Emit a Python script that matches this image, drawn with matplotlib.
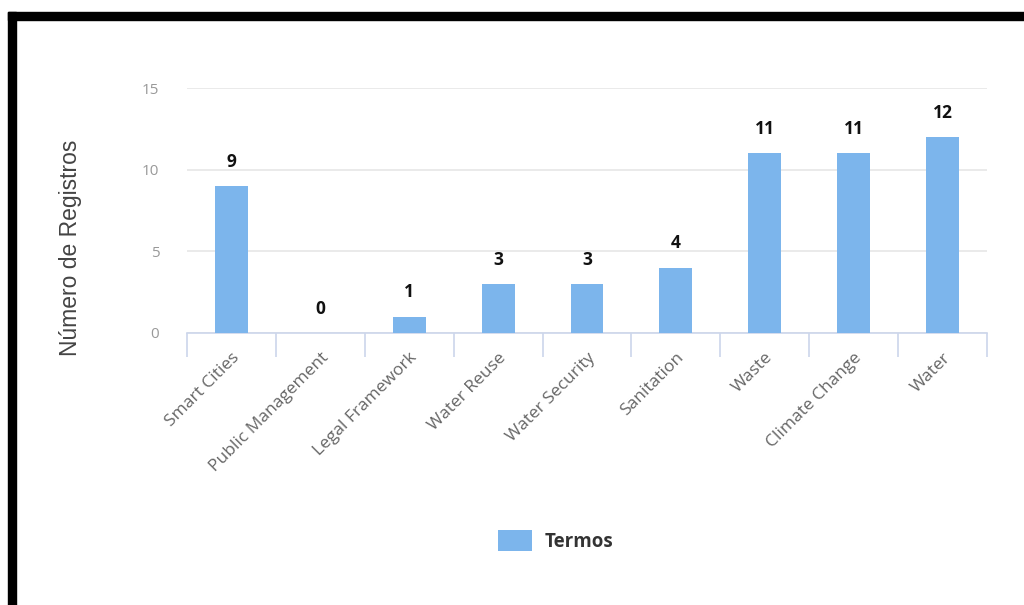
import matplotlib
matplotlib.use('Agg')
import matplotlib.pyplot as plt
from matplotlib.patches import Rectangle, Patch
import numpy as np

categories = ["Smart Cities", "Public Management", "Legal Framework", "Water Reuse",
              "Water Security", "Sanitation", "Waste", "Climate Change", "Water"]
values = [9, 0, 1, 3, 3, 4, 11, 11, 12]
yticks = [0, 5, 10, 15]

bar_color = "#7cb5ec"
axis_color = "#ccd6eb"

fig = plt.figure(figsize=(10.24, 6.05), dpi=100)
W, H = 1024, 605

# black frame (top and left)
fig.patches.append(Rectangle((8 / W, (H - 20) / H), 1 - 8 / W, 8 / H,
                             transform=fig.transFigure, color="black", zorder=0))
fig.patches.append(Rectangle((8 / W, 0), 8 / W, (H - 12) / H,
                             transform=fig.transFigure, color="black", zorder=0))

ax = fig.add_axes([187 / W, (H - 333) / H, 800 / W, 245 / H])
x = np.arange(len(categories))
ax.bar(x, values, width=0.37, color=bar_color, zorder=3)
ax.set_xlim(-0.5, len(categories) - 0.5)
ax.set_ylim(0, 15)

for s in ["top", "right", "left"]:
    ax.spines[s].set_visible(False)
ax.spines["bottom"].set_color(axis_color)
ax.spines["bottom"].set_linewidth(1.2)

ax.set_yticks(yticks)
ax.set_yticklabels([str(v) for v in yticks], color="#999999", fontsize=11, family="Open Sans")
ax.tick_params(axis="y", length=0, pad=20)
ax.grid(axis="y", color="#e6e6e6", linewidth=1.2, zorder=0)

# category boundary ticks
ax.set_xticks(np.arange(-0.5, len(categories)), minor=True)
ax.tick_params(axis="x", which="minor", length=17, color=axis_color, width=1.2)
ax.set_xticks(x)
ax.set_xticklabels(categories, rotation=45, ha="right", va="top", rotation_mode="anchor",
                   color="#666666", fontsize=12.5, family="Open Sans")
ax.tick_params(axis="x", which="major", length=0, pad=12)

for xi, v in zip(x, values):
    ax.annotate(str(v), (xi, v), xytext=(0, 11), textcoords="offset points",
                ha="center", va="bottom", fontsize=12.5, fontweight="bold",
                color="#111111", family="Open Sans")

fig.text(70 / W, (H - 248) / H, "Número de Registros", rotation=90, ha="center",
         va="center", fontsize=16.5, color="#444444", family="Liberation Sans")

handles = [Patch(facecolor=bar_color, label="Termos")]
leg = fig.legend(handles=handles, loc="center", bbox_to_anchor=(556 / W, (H - 541) / H),
                 frameon=False, handlelength=1.8, handleheight=1.3, handletextpad=0.7,
                 prop={"family": "Open Sans", "weight": "bold", "size": 13.5})
for t in leg.get_texts():
    t.set_color("#333333")

fig.savefig("out.png", dpi=100)
